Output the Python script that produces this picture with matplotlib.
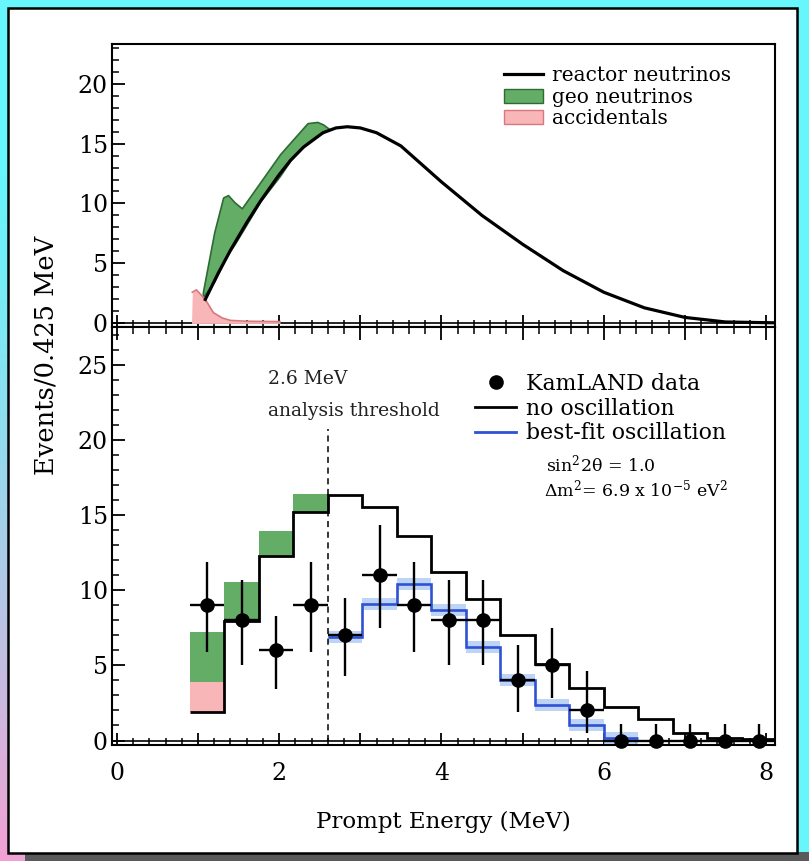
import numpy as np
import matplotlib
matplotlib.use("Agg")
import matplotlib.pyplot as plt
from matplotlib.patches import Rectangle, Patch
from matplotlib.lines import Line2D
from matplotlib.ticker import MultipleLocator, FuncFormatter

plt.rcParams['font.family'] = ['DejaVu Serif']
plt.rcParams['mathtext.fontset'] = 'dejavuserif'

# ---- top panel: expected spectra ----
reactor_E = [1.09, 1.25, 1.4, 1.6, 1.77, 2.0, 2.14, 2.3, 2.54, 2.7, 2.84, 3.0,
             3.2, 3.5, 4.0, 4.5, 5.0, 5.5, 6.0, 6.5, 7.0, 7.5, 8.11]
reactor = [2.0, 4.2, 6.1, 8.4, 10.2, 12.4, 13.6, 14.7, 15.9, 16.3, 16.4, 16.3,
           15.9, 14.8, 11.8, 9.0, 6.6, 4.4, 2.6, 1.3, 0.5, 0.12, 0.05]

geo_E = [1.06, 1.2, 1.31, 1.37, 1.45, 1.54, 1.77, 2.01, 2.14, 2.35, 2.47, 2.54, 2.62]
geo_low = [2.2, 3.5, 5.0, 5.8, 6.6, 7.6, 10.2, 12.3, 13.6, 15.1, 15.7, 15.9, 16.2]
geo_high = [2.6, 7.6, 10.5, 10.7, 10.1, 9.6, 11.8, 14.1, 15.1, 16.7, 16.8, 16.6, 16.2]

acc_E = [0.92, 0.93, 0.98, 1.09, 1.19, 1.3, 1.4, 1.6, 2.01]
acc = [0.0, 2.6, 2.8, 2.0, 0.9, 0.45, 0.25, 0.18, 0.15]

# ---- bottom panel: 0.425 MeV bins ----
edges = [0.9, 1.325, 1.75, 2.175, 2.6, 3.025, 3.45, 3.875, 4.3, 4.725, 5.15,
         5.575, 6.0, 6.425, 6.85, 7.275, 7.7, 8.125]
centers = [1.1125, 1.5375, 1.9625, 2.3875, 2.8125, 3.2375, 3.6625, 4.0875, 4.5125,
           4.9375, 5.3625, 5.7875, 6.2125, 6.6375, 7.0625, 7.4875, 7.9125]
counts = [9, 8, 6, 9, 7, 11, 9, 8, 8, 4, 5, 2, 0, 0, 0, 0, 0]
err_lo = [3.1, 3.0, 2.6, 3.1, 2.7, 3.5, 3.1, 3.0, 3.0, 2.1, 2.2, 1.5, 0, 0, 0, 0, 0]
err_hi = [2.9, 2.7, 2.3, 2.9, 2.5, 3.3, 2.9, 2.7, 2.7, 2.35, 2.5, 2.6, 1.1, 1.1, 1.1, 1.1, 1.1]
no_osc = [1.9, 7.95, 12.3, 15.2, 16.35, 15.5, 13.6, 11.2, 9.4, 7.0, 5.1, 3.5,
          2.2, 1.4, 0.5, 0.2, 0.1]
acc_hist = [2.0, 0.1, 0.05, 0.0]
geo_hist = [3.3, 2.5, 1.6, 1.2]
bestfit_edges = edges[4:14]
bestfit = [6.9, 9.1, 10.4, 8.7, 6.2, 4.0, 2.35, 1.0, 0.15]

GREEN = "#63ad67"
GREEN_EDGE = "#2e6a33"
PINK = "#f8b6b8"
PINK_EDGE = "#d9787c"
BLUE = "#2f52d4"
LIGHT_BLUE = "#b3cdf6"

fig = plt.figure(figsize=(8.09, 8.61), dpi=100)

# background: cyan frame fading to pink in the lower left, white card on top
bg = fig.add_axes([0, 0, 1, 1])
yy, xx = np.mgrid[0:1:300j, 0:1:300j]
w = np.clip((yy - 0.2) / 0.8, 0, 1) ** 1.2 * np.clip(1 - 1.6 * xx, 0, 1)
cyan = np.array([0.40, 0.965, 0.985])
pink = np.array([0.95, 0.63, 0.83])
img = cyan[None, None, :] * (1 - w[..., None]) + pink[None, None, :] * w[..., None]
bg.imshow(img, extent=[0, 1, 0, 1], aspect="auto", origin="upper")
bg.add_patch(Rectangle((25 / 809, 0), 1, 9 / 861, fc="#5a5a5a", ec="none"))
bg.add_patch(Rectangle((8 / 809, 8 / 861), 789 / 809, 845 / 861,
                       fc="white", ec="black", lw=1.8))
bg.set_xlim(0, 1)
bg.set_ylim(0, 1)
bg.axis("off")

L, W = 0.1384, 0.8196
ax1 = fig.add_axes([L, 0.6202, W, 0.3287])
ax2 = fig.add_axes([L, 0.1347, W, 0.4855])

# ---------- top panel ----------
ax1.fill_between(acc_E, 0, acc, color=PINK, lw=0, zorder=2)
ax1.plot(acc_E[1:], acc[1:], color=PINK_EDGE, lw=1.2, zorder=3)
ax1.fill_between(geo_E, geo_low, geo_high, facecolor=GREEN, edgecolor=GREEN_EDGE,
                 lw=1.2, zorder=2)
ax1.plot(reactor_E, reactor, color="black", lw=2.3, zorder=4)
ax1.axhline(0, color="black", lw=1.2, zorder=1)

handles1 = [Line2D([], [], color="black", lw=2.3),
            Patch(facecolor=GREEN, edgecolor=GREEN_EDGE),
            Patch(facecolor=PINK, edgecolor=PINK_EDGE)]
ax1.legend(handles1, ["reactor neutrinos", "geo neutrinos", "accidentals"],
           loc="upper left", bbox_to_anchor=(0.592, 0.921), frameon=False,
           fontsize=14.5, handlelength=1.9, handletextpad=0.45,
           labelspacing=0.12, borderpad=0, borderaxespad=0)

# ---------- bottom panel ----------
ax2.stairs(np.add(no_osc[:4], acc_hist), edges[:5], baseline=no_osc[:4],
           fill=True, color=PINK, lw=0, zorder=1)
ax2.stairs(np.add(np.add(no_osc[:4], acc_hist), geo_hist), edges[:5],
           baseline=np.add(no_osc[:4], acc_hist), fill=True, color=GREEN, lw=0, zorder=1)
ax2.stairs(np.add(bestfit, 0.4), bestfit_edges, baseline=np.subtract(bestfit, 0.4),
           fill=True, color=LIGHT_BLUE, lw=0, alpha=0.85, zorder=2)
ax2.stairs(bestfit, bestfit_edges, baseline=None, color=BLUE, lw=1.9, zorder=3)
ax2.stairs(no_osc, edges, baseline=None, color="black", lw=2.0, zorder=4)
ax2.axhline(0, color="black", lw=1.2, zorder=1)
ax2.axvline(2.6, ymin=0.01, ymax=0.755, color="black", lw=1.1, ls=(0, (4, 3)), zorder=2)
ax2.errorbar(centers, counts, yerr=[err_lo, err_hi], xerr=0.2125, fmt="o",
             color="black", ms=9.5, elinewidth=1.7, capsize=0, zorder=6, clip_on=False)

ax2.text(0.236, 0.876, "2.6 MeV", transform=ax2.transAxes, fontsize=13.5,
         va="center", ha="left", color="#222222")
ax2.text(0.236, 0.800, "analysis threshold", transform=ax2.transAxes, fontsize=13.5,
         va="center", ha="left", color="#222222")

handles2 = [Line2D([], [], color="black", marker="o", ls="none", ms=9.5),
            Line2D([], [], color="black", lw=2.0),
            Line2D([], [], color=BLUE, lw=2.0)]
ax2.legend(handles2, ["KamLAND data", "no oscillation", "best-fit oscillation"],
           loc="upper left", bbox_to_anchor=(0.548, 0.890), frameon=False,
           fontsize=15.8, handlelength=1.85, handletextpad=0.45,
           labelspacing=0.12, borderpad=0, borderaxespad=0)
ax2.text(0.655, 0.672, r"sin$^2$2θ = 1.0", transform=ax2.transAxes, fontsize=12.5,
         va="center", ha="left")
ax2.text(0.652, 0.612, r"Δm$^2$= 6.9 x 10$^{-5}$ eV$^2$", transform=ax2.transAxes,
         fontsize=12.5, va="center", ha="left")

# ---------- axes styling ----------
for ax, ymax in ((ax1, 23.3), (ax2, 27.5)):
    ax.set_xlim(-0.06, 8.11)
    ax.set_ylim(-0.3, ymax)
    ax.xaxis.set_major_locator(MultipleLocator(1))
    ax.xaxis.set_minor_locator(MultipleLocator(0.2))
    ax.yaxis.set_major_locator(MultipleLocator(5))
    ax.yaxis.set_minor_locator(MultipleLocator(1))
    ax.tick_params(which="both", direction="in", labelsize=17, color="black")
    ax.tick_params(which="major", length=9, width=1.3)
    ax.tick_params(which="minor", length=5, width=1.1)
    ax.tick_params(axis="y", pad=3)
    for sp in ax.spines.values():
        sp.set_linewidth(1.5)

ax1.tick_params(axis="x", labelbottom=False)
ax2.tick_params(axis="x", top=True, which="both")
ax2.xaxis.set_major_formatter(FuncFormatter(lambda v, p: f"{v:.0f}" if v % 2 == 0 else ""))
ax2.tick_params(axis="x", pad=12)

fig.text(0.057, 0.587, "Events/0.425 MeV", rotation=90, ha="center", va="center",
         fontsize=18.5)
ax2.set_xlabel("Prompt Energy (MeV)", fontsize=16.5, labelpad=19)

fig.savefig("out.png", dpi=100)
